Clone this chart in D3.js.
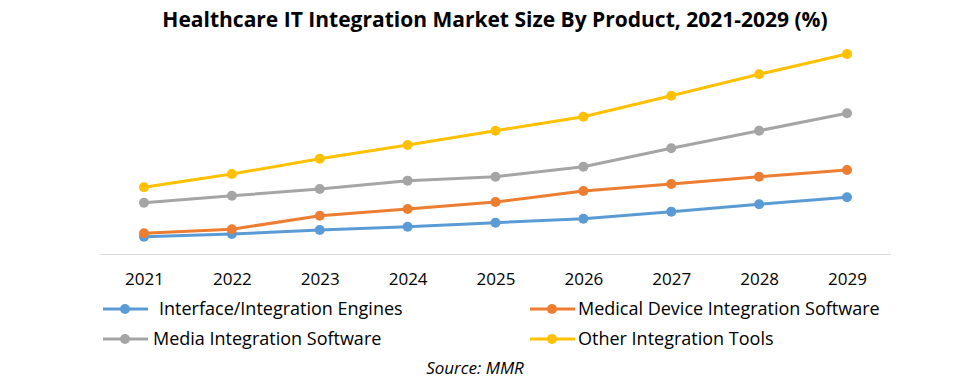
<!DOCTYPE html>
<html><head><meta charset="utf-8">
<script src="https://cdn.jsdelivr.net/npm/d3@7/dist/d3.min.js"></script>
<style>body{margin:0;background:#fff}svg{display:block}</style>
</head><body>
<script>
const years = ["2021","2022","2023","2024","2025","2026","2027","2028","2029"];
const seriesNames = ["Interface/Integration Engines","Medical Device Integration Software","Media Integration Software","Other Integration Tools"];
const interfaceEngines = [1.75,2.01,2.40,2.72,3.12,3.51,4.20,4.92,5.61];
const medicalDevice = [2.08,2.47,3.80,4.46,5.15,6.23,6.91,7.63,8.28];
const mediaIntegration = [5.08,5.76,6.42,7.24,7.63,8.61,10.41,12.14,13.84];
const otherTools = [6.59,7.89,9.39,10.74,12.14,13.51,15.57,17.67,19.66];
const colors = ["#5b9bd5","#ed7d31","#a5a5a5","#ffc000"];
const seriesValues = [interfaceEngines, medicalDevice, mediaIntegration, otherTools];

const W=966,H=382;
const svg=d3.select("body").append("svg").attr("width",W).attr("height",H);
const font="'Open Sans', sans-serif";

svg.append("text").attr("x",495).attr("y",27).attr("text-anchor","middle")
  .style("font-family",font).style("font-weight","bold").style("font-size","21px").attr("fill","#000")
  .text("Healthcare IT Integration Market Size By Product, 2021-2029 (%)");

const x=d3.scalePoint().domain(years).range([144,847]);
const y=d3.scaleLinear().domain([0,20]).range([254.5,50.5]);

svg.append("line").attr("x1",100).attr("x2",891).attr("y1",254.5).attr("y2",254.5).attr("stroke","#d9d9d9").attr("stroke-width",1);

const xa=svg.append("g").attr("transform","translate(0,254.5)").call(d3.axisBottom(x).tickSize(0).tickPadding(18));
xa.select(".domain").remove();
xa.selectAll("text").style("font-family",font).style("font-size","17px").attr("fill","#000");

const line=d3.line().x((d,i)=>x(years[i])).y(d=>y(d));
seriesValues.forEach((vals,k)=>{
  const g=svg.append("g");
  g.append("path").datum(vals).attr("d",line).attr("fill","none").attr("stroke",colors[k]).attr("stroke-width",3).attr("stroke-linejoin","round").attr("stroke-linecap","round");
  g.selectAll("circle").data(vals).join("circle").attr("cx",(d,i)=>x(years[i])).attr("cy",d=>y(d)).attr("r",5).attr("fill",colors[k]);
});

const legPos=[[103,309,159],[530,309,578],[103,339,153],[530,339,578]];
seriesNames.forEach((n,k)=>{
  const [lx,ly,tx]=legPos[k];
  svg.append("line").attr("x1",lx).attr("x2",lx+45).attr("y1",ly).attr("y2",ly).attr("stroke",colors[k]).attr("stroke-width",3);
  svg.append("circle").attr("cx",lx+22).attr("cy",ly).attr("r",5).attr("fill",colors[k]);
  svg.append("text").attr("x",tx).attr("y",ly).attr("dy","0.35em").style("font-family",font).style("font-size","18px").attr("fill","#000").text(n);
});

svg.append("text").attr("x",475).attr("y",374).attr("text-anchor","middle").style("font-family",font).style("font-style","italic").style("font-size","17px").attr("fill","#000").text("Source: MMR");
</script>
</body></html>
